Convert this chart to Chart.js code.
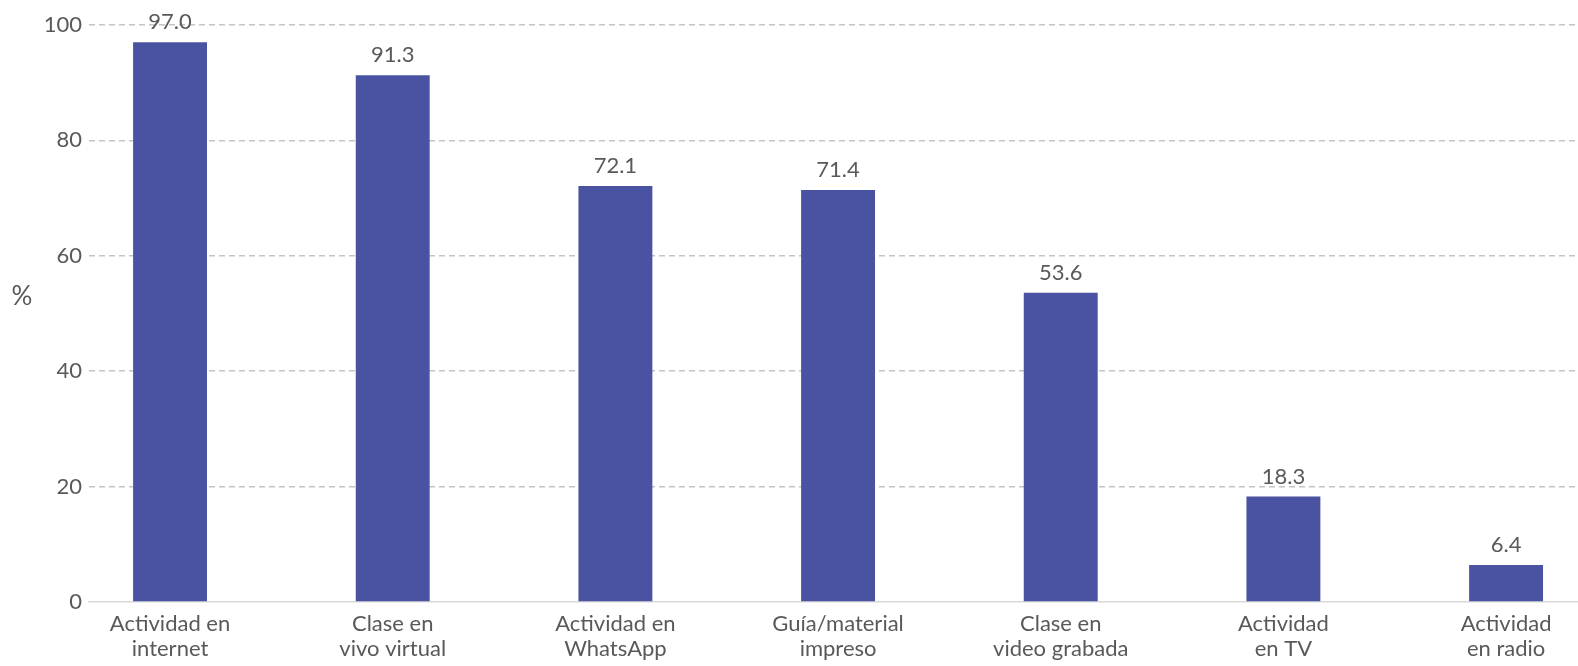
<!DOCTYPE html>
<html>
<head>
<meta charset="utf-8">
<script src="https://cdn.jsdelivr.net/npm/chart.js@4"></script>
<style>
  html, body { margin: 0; padding: 0; background: #fff; overflow: hidden; }
  #wrap { width: 1578px; height: 666px; position: relative; }
</style>
</head>
<body>
<div id="wrap"><canvas id="chart"></canvas></div>
<script>
const categories = [
  ["Actividad en", "internet"],
  ["Clase en", "vivo virtual"],
  ["Actividad en", "WhatsApp"],
  ["Guía/material", "impreso"],
  ["Clase en", "video grabada"],
  ["Actividad", "en TV"],
  ["Actividad", "en radio"],
];
const values = [97.0, 91.3, 72.1, 71.4, 53.6, 18.3, 6.4];
const yTicks = [0, 20, 40, 60, 80, 100];

const FONT = "Lato, 'Open Sans', sans-serif";
const TEXT = "#595959";
const BAR = "#4a53a1";

const barLabels = {
  id: "barLabels",
  afterDatasetsDraw(chart) {
    const ctx = chart.ctx;
    const meta = chart.getDatasetMeta(0);
    ctx.save();
    ctx.font = `22px ${FONT}`;
    ctx.fillStyle = TEXT;
    ctx.textAlign = "center";
    ctx.textBaseline = "bottom";
    meta.data.forEach((bar, i) => {
      ctx.fillText(values[i].toFixed(1), bar.x, bar.y - 9);
    });
    // upright axis unit
    ctx.font = `26px ${FONT}`;
    ctx.textBaseline = "middle";
    ctx.fillText("%", 22, 297);
    ctx.restore();
  },
};

new Chart(document.getElementById("chart"), {
  type: "bar",
  data: {
    datasets: [{
      data: values.map((v, i) => ({ x: i, y: v })),
      backgroundColor: BAR,
      barPercentage: 1,
      categoryPercentage: 0.332,
    }],
  },
  options: {
    responsive: true,
    maintainAspectRatio: false,
    animation: false,
    layout: { padding: { top: 25, right: 0, left: 0, bottom: 0 } },
    plugins: {
      legend: { display: false },
      tooltip: { enabled: false },
    },
    scales: {
      x: {
        type: "linear",
        offset: false,
        min: -0.364,
        max: 6.323,
        afterBuildTicks: (axis) => {
          axis.ticks = categories.map((_, i) => ({ value: i }));
        },
        afterFit: (scale) => { scale.height = 64; },
        ticks: {
          autoSkip: false,
          maxRotation: 0,
          padding: 9,
          color: TEXT,
          font: { family: FONT, size: 22, lineHeight: 1.15 },
          callback: (value) => categories[value],
        },
        grid: { display: false, drawTicks: false, offset: false },
        border: { display: true, color: "#d9d9d9", width: 1.5 },
      },
      y: {
        min: 0,
        max: 100,
        afterBuildTicks: (axis) => {
          axis.ticks = yTicks.map((v) => ({ value: v }));
        },
        afterFit: (scale) => { scale.width = 89; },
        ticks: {
          padding: 7,
          color: TEXT,
          font: { family: FONT, size: 22 },
        },
        grid: {
          drawTicks: false,
          color: (c) => (c.tick && c.tick.value === 0 ? "rgba(0,0,0,0)" : "#c4c4c4"),
          lineWidth: 1.5,
        },
        border: { display: false, dash: [6, 4] },
      },
    },
  },
  plugins: [barLabels],
});
</script>
</body>
</html>
